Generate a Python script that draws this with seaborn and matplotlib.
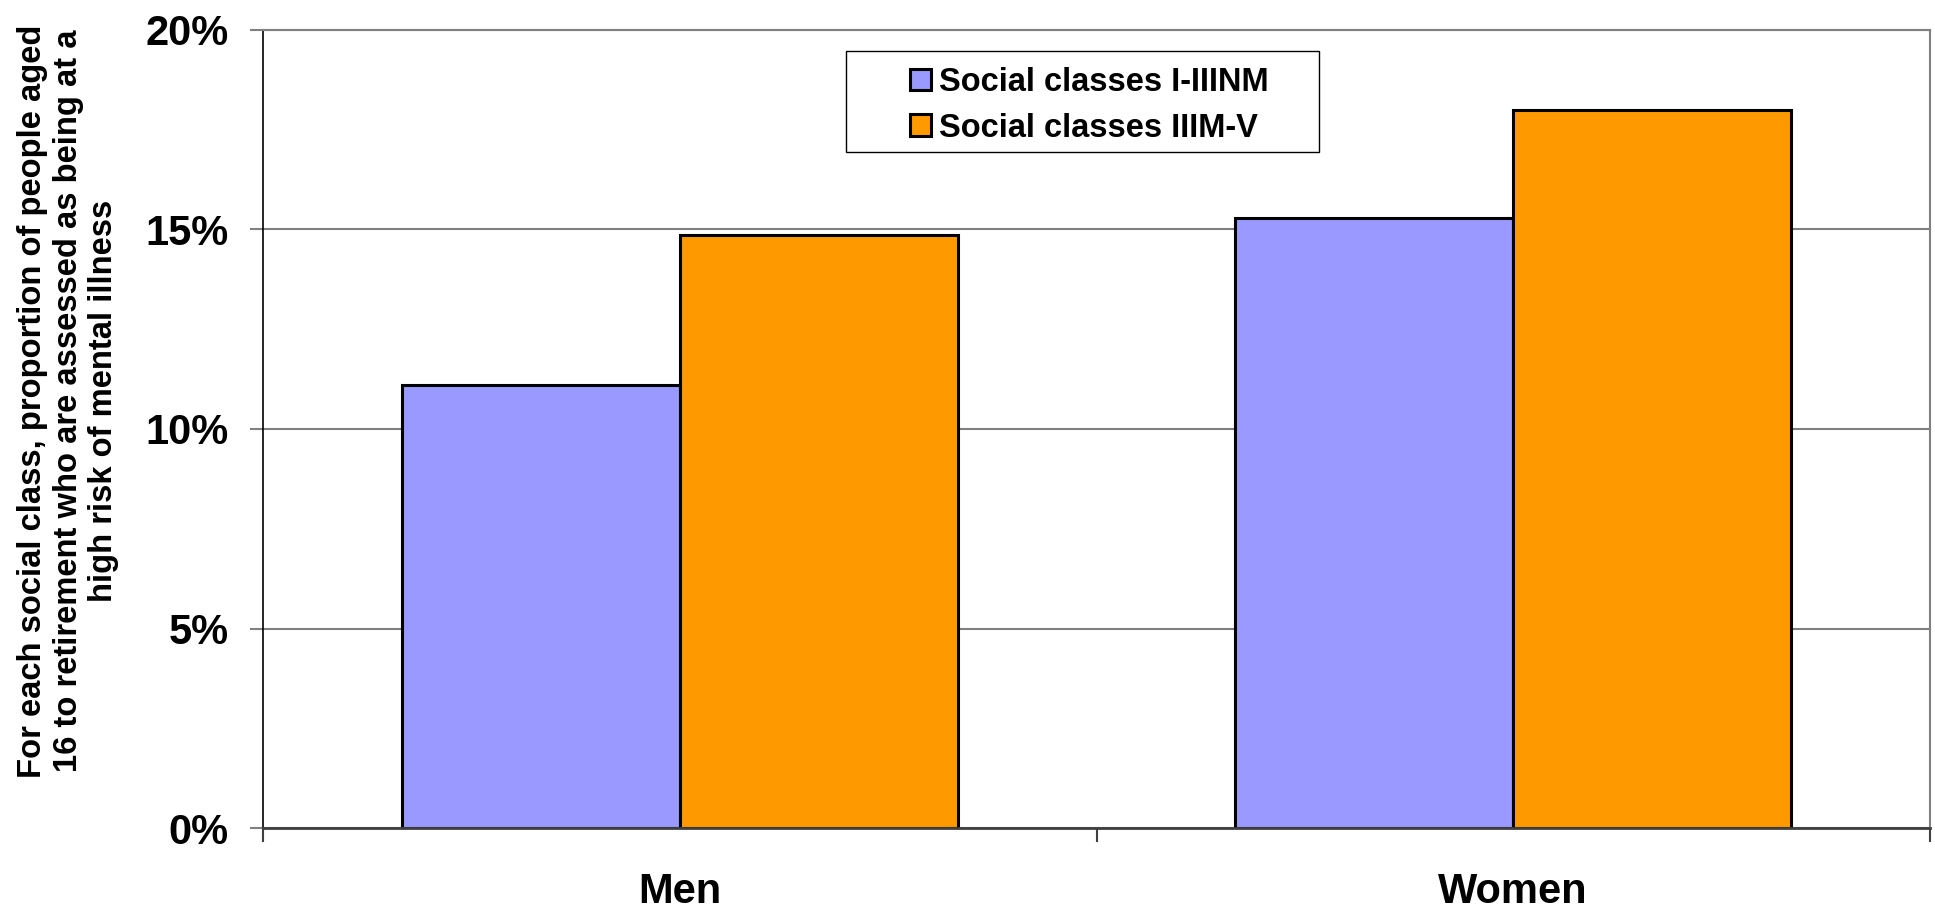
"""Mental illness risk by social class and sex, Excel-style grouped bars."""

import matplotlib

matplotlib.use("Agg")
import matplotlib.pyplot as plt
import pandas as pd
import seaborn as sns
from matplotlib.patches import Rectangle

sns.set_theme(style="white")
plt.rcParams["font.family"] = ["Liberation Sans", "DejaVu Sans"]
plt.rcParams["font.weight"] = "bold"
plt.rcParams["text.color"] = "black"
plt.rcParams["xtick.color"] = "black"
plt.rcParams["ytick.color"] = "black"

# data (percent)
SEXES = ["Men", "Women"]
CLASSES = ["Social classes I-IIINM", "Social classes IIIM-V"]
VALUES_I_IIINM = [11.1, 15.3]
VALUES_IIIM_V = [14.85, 18.0]
Y_TICKS = [0, 5, 10, 15, 20]
COLOURS = ["#9999FF", "#FF9900"]

df = pd.DataFrame(
    {
        "sex": SEXES * 2,
        "cls": [CLASSES[0]] * 2 + [CLASSES[1]] * 2,
        "value": VALUES_I_IIINM + VALUES_IIIM_V,
    }
)

fig = plt.figure(figsize=(19.35, 9.11), dpi=100)
ax = fig.add_axes([263 / 1935, 83 / 911, 1667 / 1935, 798 / 911])

sns.barplot(
    data=df, x="sex", y="value", hue="cls", order=SEXES, hue_order=CLASSES,
    palette=COLOURS, width=0.667, gap=0, edgecolor="black", linewidth=2.2,
    saturation=1, ax=ax,
)

ax.set_xlim(-0.5, 1.5)
ax.set_ylim(0, 20)
ax.set_yticks(Y_TICKS)
ax.set_yticklabels([f"{t}%" for t in Y_TICKS])
ax.set_xticks([0, 1])
ax.set_xticklabels(SEXES)
ax.set_xticks([-0.5, 0.5, 1.5], minor=True)
ax.set_xlabel("")
ax.set_ylabel("")

ax.yaxis.grid(True, color="#808080", linewidth=1.5)
ax.set_axisbelow(True)

ax.tick_params(axis="y", left=True, length=9.5, width=1.5, color="#808080",
               labelcolor="black", pad=15, labelsize=30)
ax.tick_params(axis="x", which="major", bottom=True, length=0, pad=32,
               labelcolor="black", labelsize=30)
ax.tick_params(axis="x", which="minor", bottom=True, length=10, width=1.5,
               color="#404040")
for lab in ax.get_xticklabels() + ax.get_yticklabels():
    lab.set_fontweight("bold")

for side in ("top", "right"):
    ax.spines[side].set_color("#808080")
    ax.spines[side].set_linewidth(1.5)
ax.spines["left"].set_color("black")
ax.spines["left"].set_linewidth(1.2)
ax.spines["bottom"].set_color("#404040")
ax.spines["bottom"].set_linewidth(2)

# legend: frame drawn separately so its padding matches the original
handles, labels = ax.get_legend_handles_labels()
leg = ax.legend(
    handles, labels, loc="upper left", bbox_to_anchor=(0.388, 0.9537),
    frameon=False, borderpad=0, borderaxespad=0,
    handlelength=0.64, handleheight=0.64, handletextpad=0.27, labelspacing=0.45,
    prop={"weight": "bold", "size": 23.5},
)
for txt in leg.get_texts():
    txt.set_color("black")
ax.add_patch(Rectangle((0.350, 0.847), 0.2835, 0.127, transform=ax.transAxes,
                       fill=False, edgecolor="black", linewidth=1, zorder=5))

fig.text(
    68 / 1935, 1 - 401 / 911,
    "For each social class, proportion of people aged\n"
    "16 to retirement who are assessed as being at a\n"
    "high risk of mental illness",
    rotation=90, ha="center", va="center", multialignment="center",
    fontsize=23.6, fontweight="bold", linespacing=1.2, color="black",
)

fig.savefig("out.png", dpi=100)
